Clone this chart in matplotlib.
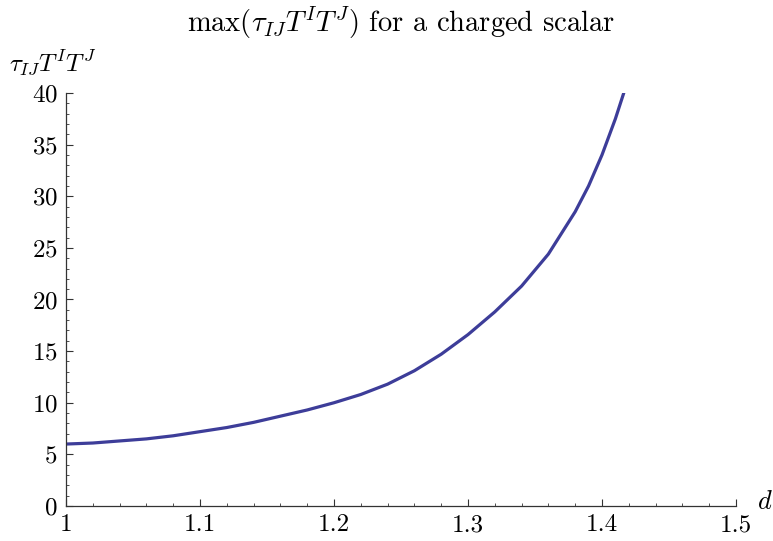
import matplotlib
matplotlib.use("Agg")
import matplotlib.pyplot as plt
from matplotlib.ticker import MultipleLocator

plt.rcParams["font.family"] = "serif"
plt.rcParams["font.serif"] = ["cmr10"]
plt.rcParams["mathtext.fontset"] = "cm"
plt.rcParams["axes.formatter.use_mathtext"] = True

# values
d_vals = [1.00, 1.02, 1.04, 1.06, 1.08, 1.10, 1.12, 1.14, 1.16, 1.18,
          1.20, 1.22, 1.24, 1.26, 1.28, 1.30, 1.32, 1.34, 1.36, 1.38,
          1.39, 1.40, 1.41, 1.42]
tau_vals = [6.0, 6.1, 6.3, 6.5, 6.8, 7.2, 7.6, 8.1, 8.7, 9.3,
            10.0, 10.8, 11.8, 13.1, 14.7, 16.6, 18.8, 21.3, 24.4, 28.5,
            31.0, 34.0, 37.5, 41.5]

x_ticks = [1.0, 1.1, 1.2, 1.3, 1.4, 1.5]
x_ticklabels = ["1", "1.1", "1.2", "1.3", "1.4", "1.5"]
y_ticks = [0, 5, 10, 15, 20, 25, 30, 35, 40]

LINE_COLOR = "#3d3d99"
AXIS_COLOR = "#333333"

fig = plt.figure(figsize=(7.73, 5.41), dpi=100)
ax = fig.add_axes([0.0854, 0.0647, 0.8667, 0.7634])

ax.plot(d_vals, tau_vals, color=LINE_COLOR, lw=2.3, solid_capstyle="butt",
        solid_joinstyle="round")

ax.set_xlim(1.0, 1.5)
ax.set_ylim(0, 40)

for side in ["top", "right"]:
    ax.spines[side].set_visible(False)
for side in ["left", "bottom"]:
    ax.spines[side].set_color(AXIS_COLOR)
    ax.spines[side].set_linewidth(0.9)

ax.set_xticks(x_ticks)
ax.set_xticklabels(x_ticklabels)
ax.set_yticks(y_ticks)
ax.xaxis.set_minor_locator(MultipleLocator(0.02))
ax.yaxis.set_minor_locator(MultipleLocator(1))
ax.tick_params(which="major", direction="in", length=5, width=0.8,
               color=AXIS_COLOR, labelsize=18, pad=6)
ax.tick_params(which="minor", direction="in", length=2.5, width=0.6,
               color=AXIS_COLOR)

fig.text(0.518, 0.957, r"$\max(\tau_{IJ}T^IT^J)$ for a charged scalar",
         ha="center", va="center", fontsize=20.5)
fig.text(0.012, 0.882, r"$\tau_{IJ}T^IT^J$", ha="left", va="center",
         fontsize=18)
fig.text(0.999, 0.072, r"$d$", ha="right", va="center", fontsize=19)

fig.savefig("out.png", dpi=100)
